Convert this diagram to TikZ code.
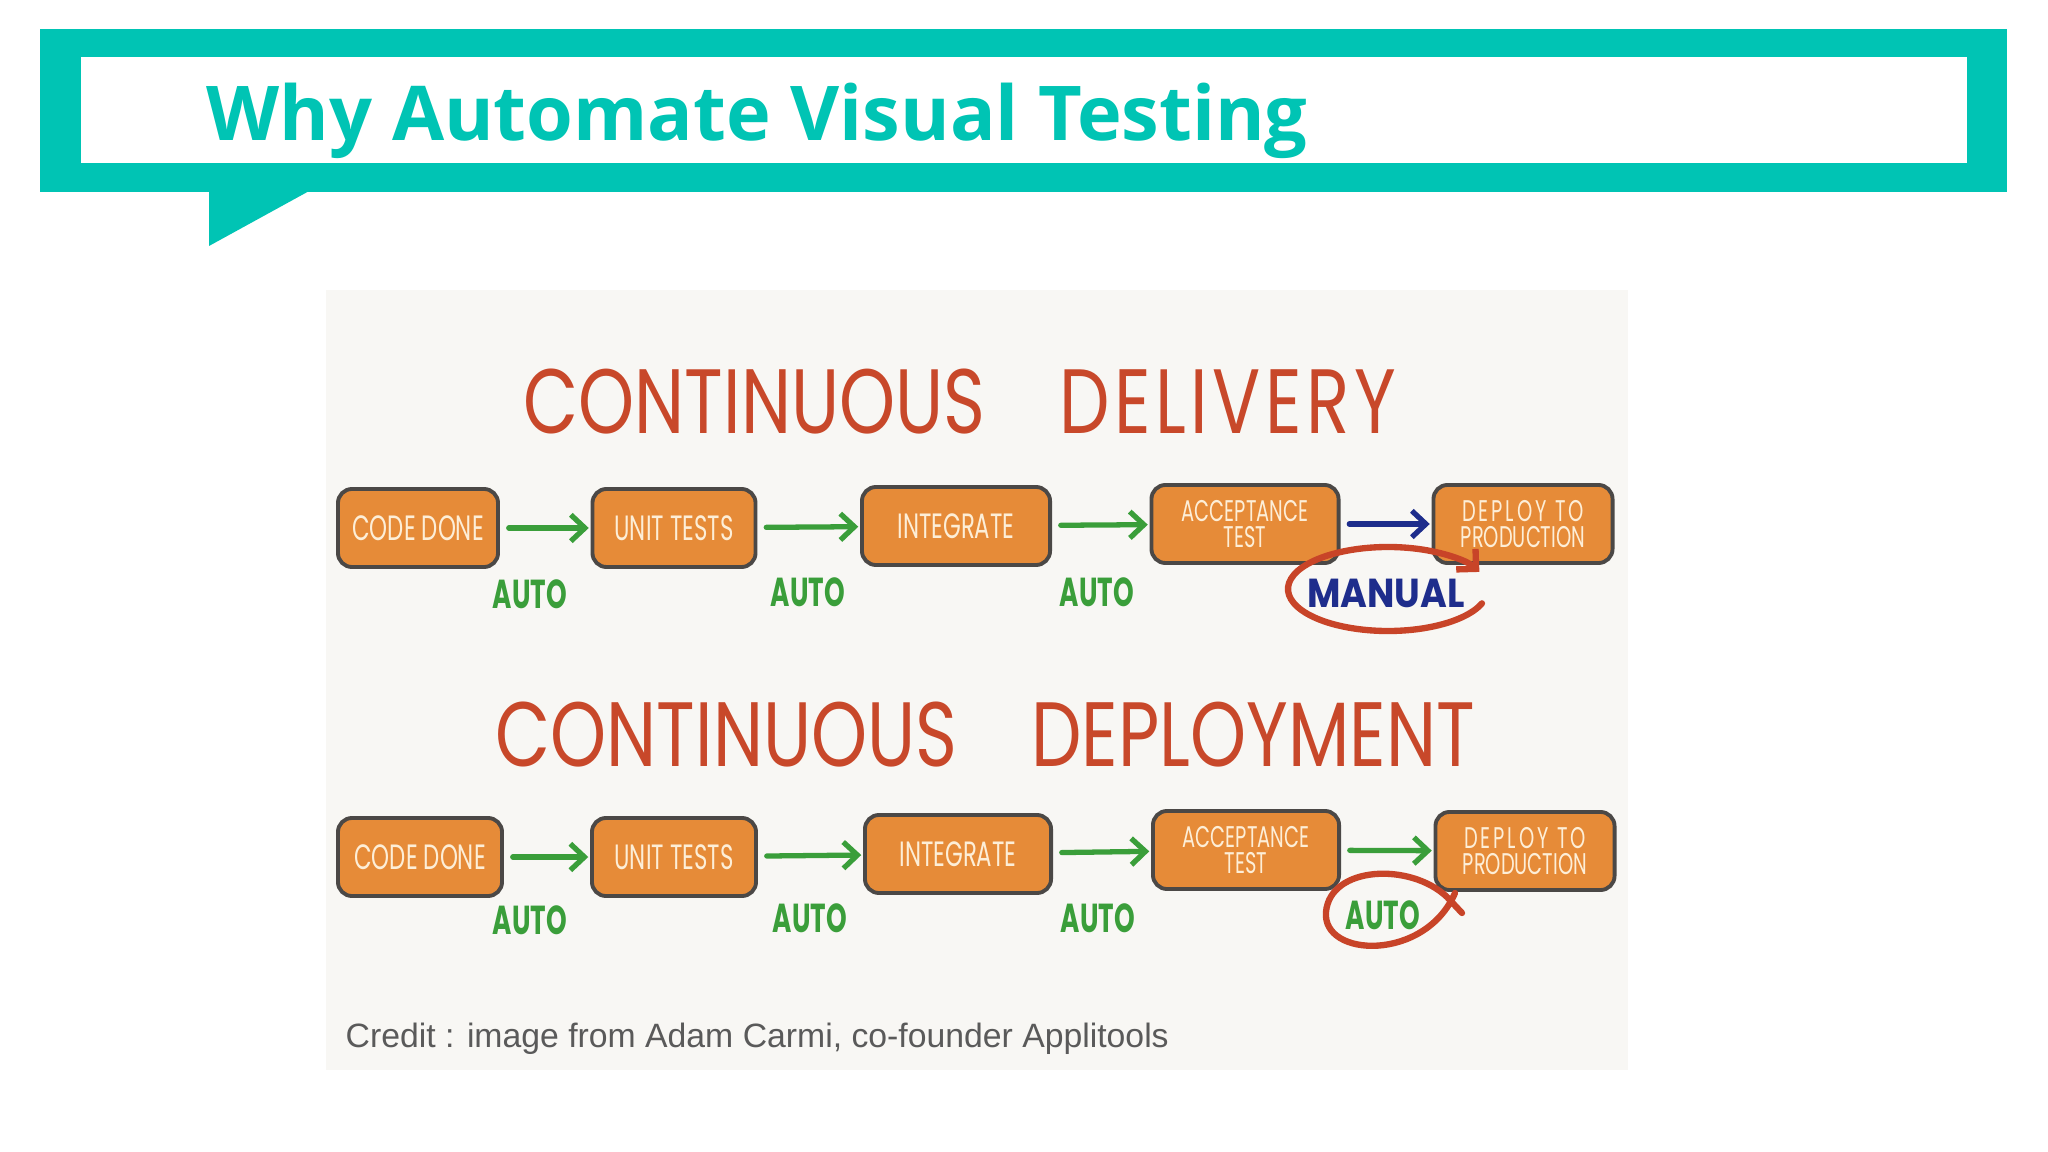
\documentclass[tikz,border=0pt]{standalone}
\usepackage{fontspec}
\usetikzlibrary{positioning,
        arrows.meta,
        shapes.geometric}
\newfontfamily\slidefont{Open Sans}
\newfontfamily\handfont[FakeStretch=0.78]{Poppins}
\newfontfamily\boxfont[FakeStretch=0.65]{Poppins}
\newfontfamily\widefont[FakeStretch=0.9]{Poppins}
\newfontfamily\creditfont{Liberation Sans}
\definecolor{slideteal}{RGB}{0,196,180}
\definecolor{photobg}{RGB}{248,247,244}
\definecolor{headred}{RGB}{200,72,42}
\definecolor{boxorange}{RGB}{230,139,56}
\definecolor{boxline}{RGB}{75,72,70}
\definecolor{boxtext}{RGB}{253,238,215}
\definecolor{autogreen}{RGB}{58,158,58}
\definecolor{manualblue}{RGB}{30,45,140}
\definecolor{ringred}{RGB}{200,68,40}
\definecolor{creditgray}{RGB}{90,90,90}

\begin{document}
\begin{tikzpicture}[x=0.01cm,y=-0.01cm,
            stage/.style={draw=boxline,fill=boxorange,rounded corners=4pt,line width=1.1pt,text=boxtext,minimum height=0.78cm,inner sep=0pt,align=center,font=\boxfont\fontsize{10}{10}\selectfont},
            twoline/.style={font=\boxfont\fontsize{8.5}{7.6}\selectfont},
            flow/.style={draw=autogreen,line width=1.5pt,line cap=round,-{Straight Barb[length=4pt,width=7.5pt]},shorten <=2.5pt,shorten >=0.5pt},
            autolabel/.style={text=autogreen,font=\boxfont\bfseries\fontsize{11.5}{12}\selectfont},
            heading/.style={anchor=west,inner sep=0pt,text=headred,font=\handfont\fontsize{26}{28}\selectfont},
            ring/.style={draw=ringred,line width=1.8pt,line cap=round}]
            \useasboundingbox (0,0) rectangle (2048,1152);
            \fill[white] (0,0) rectangle (2048,1152);

            % banner
            \fill[slideteal] (40,29) rectangle (2007,192);
            \fill[slideteal] (209,190) -- (311,190) -- (209,246) -- cycle;
            \fill[white] (81,57) rectangle (1967,163);
            \node [anchor=base west,inner sep=0pt,text=slideteal,font=\slidefont\bfseries\fontsize{21.5}{24}\selectfont] (slidetitle) at (206,141) {Why Automate Visual Testing};

            % picture
            \fill[photobg] (326,290) rectangle (1628,1070);
            \node [heading] (deliveryhead) at (523,402) {CONTINUOUS\hspace{0.6em} {\addfontfeature{LetterSpace=5}DELIVERY}};
            \node [heading] (deploymenthead) at (495,735) {CONTINUOUS\hspace{0.6em} DEPLOYMENT};

            \node [stage,minimum width=1.6cm] (done1) at (418,528) {CODE DONE};
            \node [stage,minimum width=1.63cm] (unit1) at (674,528) {UNIT TESTS};
            \node [stage,minimum width=1.88cm] (integ1) at (956,526) {INTEGRATE};
            \node [stage,twoline,minimum width=1.87cm] (accept1) at (1245,524) {ACCEPTANCE\\TEST};
            \node [stage,twoline,minimum width=1.79cm] (deploy1) at (1523,524) {{\addfontfeature{LetterSpace=10}DEPLOY TO}\\PRODUCTION};

            \node [stage,minimum width=1.64cm] (done2) at (420,857) {CODE DONE};
            \node [stage,minimum width=1.64cm] (unit2) at (674,857) {UNIT TESTS};
            \node [stage,minimum width=1.86cm] (integ2) at (958,854) {INTEGRATE};
            \node [stage,twoline,minimum width=1.86cm] (accept2) at (1246,850) {ACCEPTANCE\\TEST};
            \node [stage,twoline,minimum width=1.79cm] (deploy2) at (1525,851) {{\addfontfeature{LetterSpace=10}DEPLOY TO}\\PRODUCTION};

            \node [autolabel] (auto1a) at (530,594) {AUTO};
            \node [autolabel] (auto1b) at (808,592) {AUTO};
            \node [autolabel] (auto1c) at (1097,592) {AUTO};
            \node [text=manualblue,font=\widefont\bfseries\fontsize{11.5}{12}\selectfont] (manual1) at (1386,593) {MANUAL};

            \node [autolabel] (auto2a) at (530,920) {AUTO};
            \node [autolabel] (auto2b) at (810,918) {AUTO};
            \node [autolabel] (auto2c) at (1098,918) {AUTO};
            \node [autolabel] (auto2d) at (1383,915) {AUTO};

            \draw [flow] (done1) -- (unit1);
            \draw [flow] (unit1) -- (integ1);
            \draw [flow] (integ1) -- (accept1);
            \draw [flow,draw=manualblue] (accept1) -- (deploy1);
            \draw [flow] (done2) -- (unit2);
            \draw [flow] (unit2) -- (integ2);
            \draw [flow] (integ2) -- (accept2);
            \draw [flow] (accept2) -- (deploy2);

            \draw [ring,-{Straight Barb[length=4pt,width=8pt]}] (1388,589) ++(20:100 and 42) arc[start angle=20,end angle=336,x radius=100,y radius=42];
            \draw [ring] (1462,913) -- (1447,897) .. controls (1410,862) and (1330,866) .. (1326,912) .. controls (1322,958) and (1425,962) .. (1455,893);

            \node [anchor=base west,inner sep=0pt,text=creditgray,font=\creditfont\fontsize{9.6}{11}\selectfont] (credit) at (345,1047) {Credit : image from Adam Carmi, co-founder Applitools};
        \end{tikzpicture}
\end{document}
